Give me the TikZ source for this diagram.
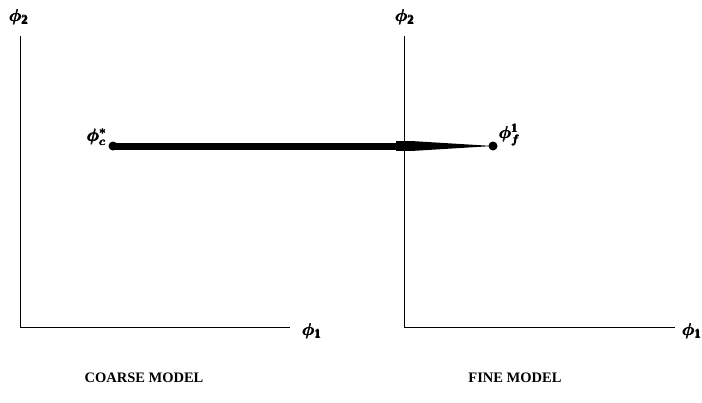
\documentclass[tikz,border=0pt]{standalone}
\usepackage{amsmath,amssymb}
\usepackage{fontspec}
\setmainfont{Liberation Serif}
\usetikzlibrary{calc}
\newcommand{\bphi}{\pmb{\boldsymbol{\phi}}}
\begin{document}
\begin{tikzpicture}[x=1pt,y=-1pt,
  axis/.style={line width=1pt,black},
  lbl/.style={inner sep=0pt,font=\fontsize{18}{20}\selectfont},
  captext/.style={inner sep=0pt,font=\bfseries\fontsize{14.5}{16}\selectfont},
  pt/.style={circle,fill=black,inner sep=0pt,minimum size=9pt}]
\useasboundingbox (0,0) rectangle (702,402);
% left axes
\coordinate (lo) at (20,327);
\coordinate (ly) at (20,36);
\coordinate (lx) at (290,327);
\draw[axis] (ly) -- (lo) -- (lx);
% right axes
\coordinate (ro) at (404,327);
\coordinate (ry) at (404,36);
\coordinate (rx) at (675,327);
\draw[axis] (ry) -- (ro) -- (rx);
% labels
\node[lbl] (l2) at (19,17) {$\bphi_{\pmb{\mathbf 2}}$};
\node[lbl] (r2) at (405,17) {$\bphi_{\pmb{\mathbf 2}}$};
\node[lbl] (l1) at (312,331) {$\bphi_{\pmb{\mathbf 1}}$};
\node[lbl] (r1) at (692,331) {$\bphi_{\pmb{\mathbf 1}}$};
% points
\node[pt] (pc) at (113,146) {};
\node[pt] (pf) at (493,146) {};
\node[lbl,anchor=east] (pcl) at (107,137) {$\bphi_{\pmb{\boldsymbol c}}^{\pmb{\boldsymbol *}}$};
\node[lbl,anchor=west] (pfl) at (499,135) {$\bphi_{\pmb{\boldsymbol f}}^{\pmb{\mathbf 1}}$};
% thick connector with taper
\fill ($(pc.center)+(0,-3.5)$) -- (400,142.5) -- (400,149.5) -- ($(pc.center)+(0,3.5)$) -- cycle;
\fill (396,141) rectangle (411,151);
\fill (411,141) -- (pf.center) -- (411,151) -- cycle;
% captions
\node[captext] (cm) at (144,378) {COARSE MODEL};
\node[captext] (fm) at (515,378) {FINE MODEL};
\end{tikzpicture}
\end{document}
